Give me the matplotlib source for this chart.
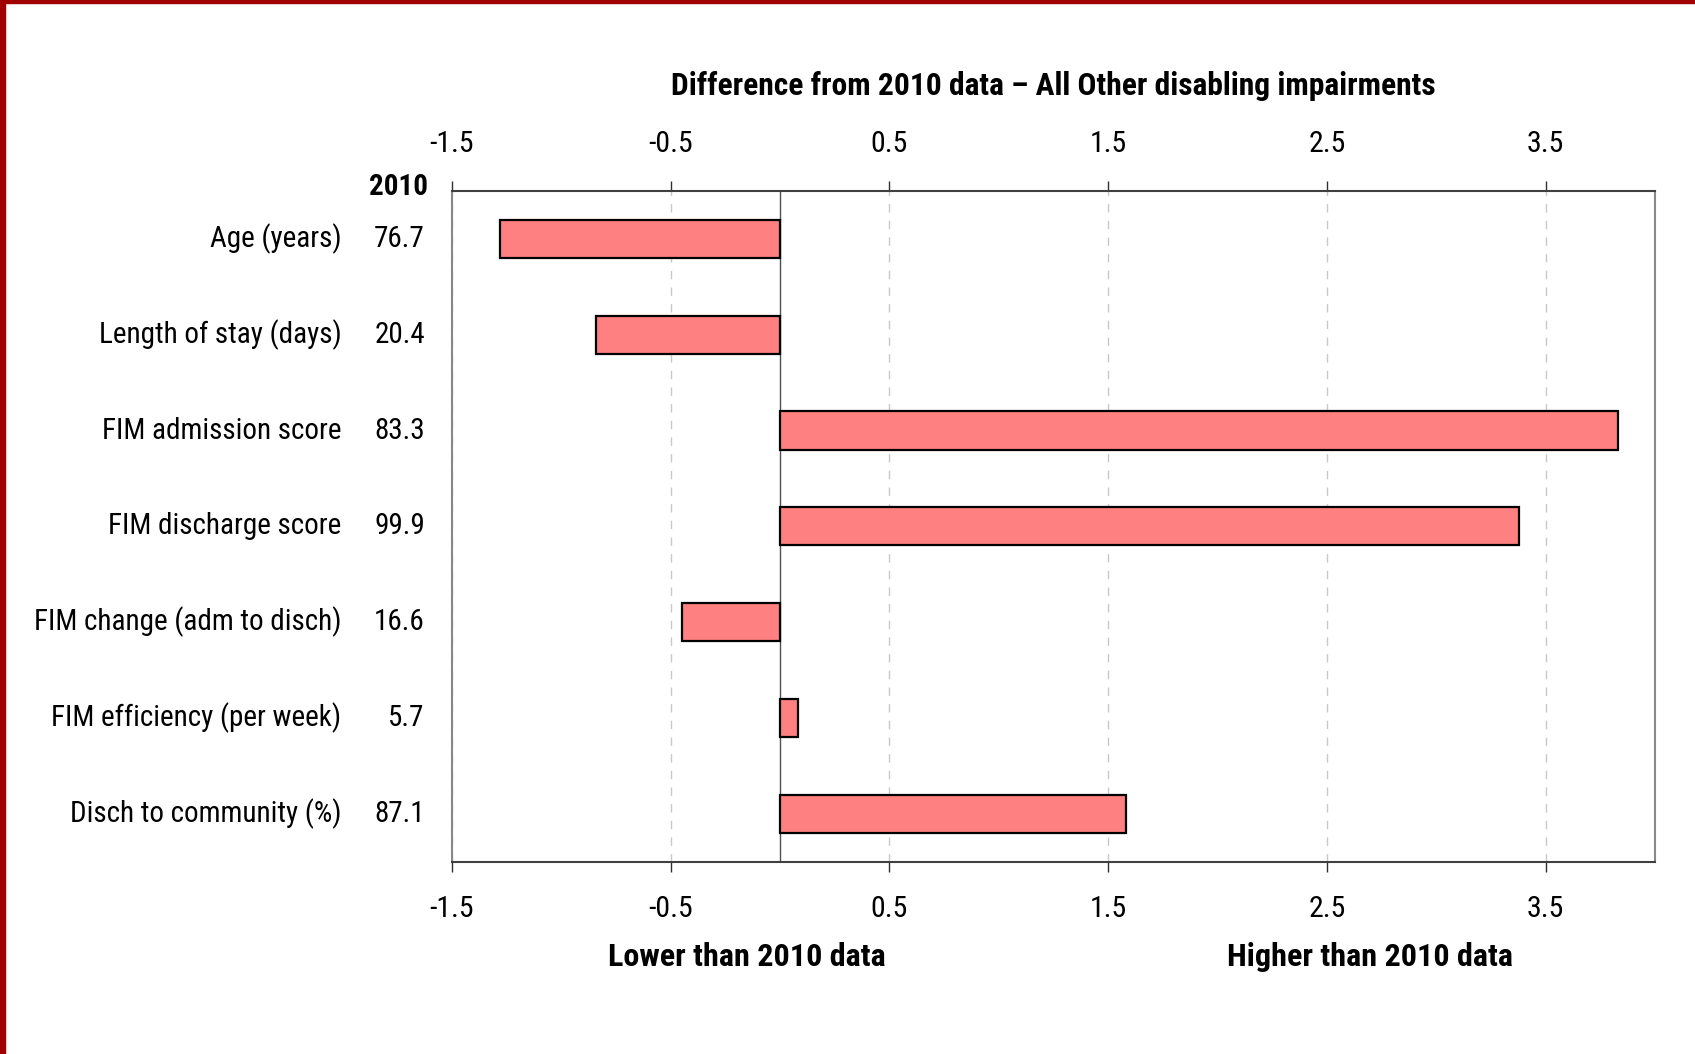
import matplotlib.pyplot as plt
import matplotlib.transforms as mtransforms
import matplotlib.font_manager as fm
from matplotlib.patches import Rectangle

# pick the narrowest installed sans font
fonts = fm.fontManager.ttflist
names = {f.name for f in fonts}
font_name, font_stretch, fs = 'Liberation Sans', 'normal', 19
for n in ['Liberation Sans Narrow', 'Arial Narrow', 'Roboto Condensed',
          'Open Sans Condensed', 'Noto Sans Condensed']:
    if n in names:
        font_name, font_stretch, fs = n, 'normal', 21
        break
else:
    for n in ['DejaVu Sans', 'Noto Sans', 'Roboto', 'Open Sans']:
        if any(f.name == n and f.stretch in ('condensed', 'semi-condensed')
               for f in fonts):
            font_name, font_stretch, fs = n, 'condensed', 19
            break

plt.rcParams['font.family'] = [font_name, 'DejaVu Sans']
plt.rcParams['font.stretch'] = font_stretch

# data
categories = ['Age (years)', 'Length of stay (days)', 'FIM admission score',
              'FIM discharge score', 'FIM change (adm to disch)',
              'FIM efficiency (per week)', 'Disch to community (%)']
values_2010 = ['76.7', '20.4', '83.3', '99.9', '16.6', '5.7', '87.1']
differences = [-1.28, -0.84, 3.83, 3.38, -0.45, 0.08, 1.58]
xticks = [-1.5, -0.5, 0.5, 1.5, 2.5, 3.5]

fig = plt.figure(figsize=(16.95, 10.54), dpi=100)
ax = fig.add_axes([0.2667, 0.1825, 0.7097, 0.6363])

ypos = list(range(len(categories)))
ax.barh(ypos, differences, height=0.4, color='#ff8080', edgecolor='black',
        linewidth=1.6, zorder=3)

ax.set_xlim(-1.5, 4.0)
ax.set_ylim(len(categories) - 0.5, -0.5)
ax.axvline(0, color='#505050', linewidth=1.0, zorder=2)

ax.set_xticks(xticks)
ax.set_xticklabels([str(t) for t in xticks])
ax.xaxis.grid(True, linestyle=(0, (6, 6)), color='#c8c8c8', linewidth=1.0)
ax.tick_params(axis='x', top=True, labeltop=True, bottom=True, labelbottom=True,
               direction='out', length=7, width=1.0, color='#303030',
               labelsize=fs + 0.5, pad=17)
ax.set_yticks([])

for side in ['top', 'bottom']:
    ax.spines[side].set_color('#404040')
    ax.spines[side].set_linewidth(1.5)
for side in ['left', 'right']:
    ax.spines[side].set_color('#888888')
    ax.spines[side].set_linewidth(1.5)

# row labels and 2010 values
trans = mtransforms.blended_transform_factory(fig.transFigure, ax.transData)
for y, name, val in zip(ypos, categories, values_2010):
    ax.text(0.2015, y, name, transform=trans, ha='right', va='center', fontsize=fs)
    ax.text(0.2506, y, val, transform=trans, ha='right', va='center', fontsize=fs)
fig.text(0.2525, 0.8226, '2010', ha='right', va='center', fontsize=fs,
         fontweight='bold')

fig.text(0.6215, 0.918, 'Difference from 2010 data \u2013 All Other disabling impairments',
         ha='center', va='center', fontsize=fs * 1.08, fontweight='bold')
fig.text(0.4407, 0.0925, 'Lower than 2010 data', ha='center', va='center',
         fontsize=fs * 1.1, fontweight='bold')
fig.text(0.808, 0.0925, 'Higher than 2010 data', ha='center', va='center',
         fontsize=fs * 1.1, fontweight='bold')

# dark red frame on top and left edges
fig.patches.append(Rectangle((0, 0), 5 / 1695, 1, transform=fig.transFigure,
                             color='#a00000', zorder=10))
fig.patches.append(Rectangle((0, 1 - 3 / 1054), 1, 3 / 1054, transform=fig.transFigure,
                             color='#a00000', zorder=10))

fig.savefig('out.png', dpi=100)
